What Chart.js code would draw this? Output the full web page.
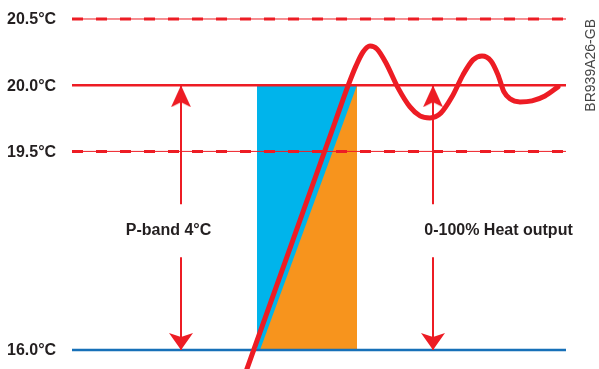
<!DOCTYPE html>
<html>
<head>
<meta charset="utf-8">
<script src="https://cdn.jsdelivr.net/npm/chart.js@4"></script>
<style>
  html, body { margin: 0; padding: 0; background: #fff; }
  #wrap { width: 599px; height: 369px; position: relative; }
</style>
</head>
<body>
<div id="wrap"><canvas id="grafica"></canvas></div>
<script>
// temperature levels: labels and where they sit on the axis (19.5 -> 16.0 is drawn compressed)
const tempLabels = ['20.5°C', '20.0°C', '19.5°C', '16.0°C'];
const tempLevels = [20.5, 20.0, 19.5, 18.0];
const levelStyle = ['dash', 'solid', 'dash', 'blue'];
const lineFrom = 72, lineTo = 566; // horizontal extent of the level lines

// proportional band (blue = off part, orange = heat output)
const bandX = [257, 357];
const bandTop = 20.0, bandBottom = 18.0;
const rampStartX = 260;

// room temperature curve
const curveX = [240, 300, 335, 348, 356, 363, 370, 377, 386, 398, 410, 420, 430, 441, 452, 463, 473, 482, 491, 498, 504, 510, 520, 532, 545, 558];
const curveT = [17.71, 18.98, 19.72, 19.995, 20.146, 20.251, 20.296, 20.274, 20.168, 19.98, 19.836, 19.768, 19.753, 19.791, 19.912, 20.078, 20.191, 20.221, 20.183, 20.078, 19.949, 19.897, 19.874, 19.882, 19.919, 19.987];

// double-headed arrows (x position, text gap)
const arrowX = [181, 433];
const gapTop = 19.1, gapBottom = 18.7;
const arrowText = ['P-band 4°C', '0-100% Heat output'];
const arrowTextX = [168.5, 498.5];
const textT = 18.9;

const red = '#ed1c24';
const blueLine = '#1770b8';
const cyan = '#00b4eb';
const orange = '#f7941d';

// arrow heads as point images, tip in the centre of the canvas
function arrowHead(h, w, notch, down) {
  const c = document.createElement('canvas');
  c.width = w; c.height = 2 * h;
  const g = c.getContext('2d');
  g.fillStyle = red;
  g.beginPath();
  if (!down) {
    g.moveTo(w / 2, h); g.lineTo(w, 2 * h); g.lineTo(w / 2, 2 * h - notch); g.lineTo(0, 2 * h);
  } else {
    g.moveTo(w / 2, h); g.lineTo(w, 0); g.lineTo(w / 2, notch); g.lineTo(0, 0);
  }
  g.closePath();
  g.fill();
  return c;
}
const upArrow = arrowHead(22, 20, 5, false);
const downArrow = arrowHead(17, 24, 4, true);

const datasets = [];

// red curve on top
datasets.push({
  data: curveX.map((x, i) => ({ x: x, y: curveT[i] })),
  borderColor: red, borderWidth: 5, pointRadius: 0,
  cubicInterpolationMode: 'monotone', borderCapStyle: 'round', borderJoinStyle: 'round'
});

// arrows
arrowX.forEach(ax => {
  datasets.push({
    data: [{ x: ax, y: bandTop }, { x: ax, y: gapTop }, { x: ax, y: null }, { x: ax, y: gapBottom }, { x: ax, y: bandBottom }],
    borderColor: red, borderWidth: 2, spanGaps: false,
    pointRadius: c => (c.dataIndex === 0 || c.dataIndex === 4) ? 5 : 0,
    pointStyle: c => c.dataIndex === 0 ? upArrow : downArrow
  });
});

// level lines
tempLevels.forEach((t, i) => {
  const pts = [{ x: lineFrom, y: t }, { x: lineTo, y: t }];
  if (levelStyle[i] === 'dash') {
    datasets.push({ data: pts, borderColor: red, borderWidth: 3, borderDash: [11, 13], pointRadius: 0 });
    datasets.push({ data: pts, borderColor: red, borderWidth: 1, pointRadius: 0 });
  } else {
    datasets.push({ data: pts, borderColor: levelStyle[i] === 'blue' ? blueLine : red, borderWidth: 2.5, pointRadius: 0 });
  }
});

// orange triangle
datasets.push({
  data: [{ x: rampStartX, y: bandBottom }, { x: bandX[1], y: bandBottom }, { x: bandX[1], y: bandTop }, { x: rampStartX, y: bandBottom }],
  borderWidth: 0, borderColor: orange, backgroundColor: orange, fill: 'shape', pointRadius: 0
});

// blue rectangle
datasets.push({
  data: [{ x: bandX[0], y: bandTop }, { x: bandX[1], y: bandTop }, { x: bandX[1], y: bandBottom }, { x: bandX[0], y: bandBottom }, { x: bandX[0], y: bandTop }],
  borderWidth: 0, borderColor: cyan, backgroundColor: cyan, fill: 'shape', pointRadius: 0
});

// labels
const textos = {
  id: 'textos',
  afterDatasetsDraw(chart) {
    const { ctx, scales: { x, y } } = chart;
    ctx.save();
    ctx.fillStyle = '#231f20';
    ctx.font = 'bold 16px "Liberation Sans", Arial, sans-serif';
    ctx.textBaseline = 'middle';
    ctx.textAlign = 'left';
    tempLabels.forEach((t, i) => ctx.fillText(t, x.getPixelForValue(7), y.getPixelForValue(tempLevels[i]) + 1));
    ctx.textAlign = 'center';
    arrowText.forEach((t, i) => ctx.fillText(t, x.getPixelForValue(arrowTextX[i]), y.getPixelForValue(textT)));
    // code of the figure, rotated
    ctx.font = '14px "Liberation Sans", Arial, sans-serif';
    ctx.fillStyle = '#444';
    ctx.translate(x.getPixelForValue(591), y.getPixelForValue(20.15));
    ctx.rotate(-Math.PI / 2);
    ctx.fillText('BR939A26-GB', 0, 0);
    ctx.restore();
  }
};

new Chart(document.getElementById('grafica'), {
  type: 'line',
  data: { datasets: datasets },
  options: {
    responsive: true,
    maintainAspectRatio: false,
    animation: false,
    layout: { padding: 0, autoPadding: false },
    plugins: { legend: { display: false }, tooltip: { enabled: false } },
    scales: {
      x: { type: 'linear', min: 0, max: 599, display: false },
      y: { type: 'linear', min: 17.8565, max: 20.6435, display: false }
    }
  },
  plugins: [textos]
});
</script>
</body>
</html>
